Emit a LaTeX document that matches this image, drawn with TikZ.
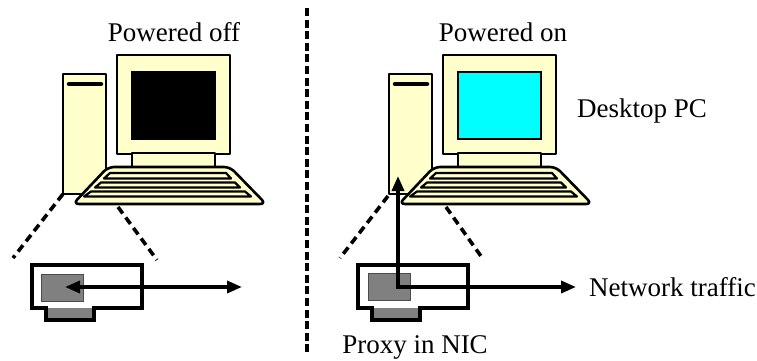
\documentclass[tikz,border=0pt]{standalone}
\usepackage{fontspec}
\setmainfont{Liberation Serif}
\usetikzlibrary{arrows.meta}

\definecolor{cream}{HTML}{FFFFCC}
\definecolor{chipgray}{HTML}{808080}
\definecolor{screenon}{HTML}{00FFFF}

\tikzset{
  part/.style={draw=black, fill=cream, line width=2.6pt, line join=round},
  keyrow/.style={draw=black, fill=cream, line width=2.2pt, line join=round},
  slot/.style={line width=4.5pt, line cap=round},
  screenframe/.style={draw=black, line width=1.2pt},
  card/.style={draw=black, line width=3.5pt, line join=miter},
  chip/.style={draw=black!70, fill=chipgray, line width=1pt, minimum width=42pt, minimum height=27pt, inner sep=0pt},
  zoomline/.style={line width=3.6pt, dash pattern=on 8pt off 5pt},
  divider/.style={line width=3.4pt, dash pattern=on 8pt off 3.6pt},
  flow/.style={line width=3.5pt, {Triangle[length=15pt,width=12pt]}-{Triangle[length=15pt,width=12pt]}},
  label/.style={font=\fontsize{27}{32}\selectfont, inner sep=0pt}
}

% desktop computer: horizontal offset, screen colour
\newcommand\desktoppc[2]{%
  \begin{scope}[shift={(#1,0)}]
    \filldraw[part] (63,74) rectangle (106,194);
    \draw[slot] (69,84) -- (101,84);
    \filldraw[part] (117,55) rectangle (230,154);
    \filldraw[screenframe, fill=#2] (132,72) rectangle (215,139);
    \filldraw[part] (132,153) rectangle (215,171);
    \filldraw[part, rounded corners=6pt] (108,167) -- (230,167) -- (266,204) -- (73,204) -- cycle;
    \filldraw[keyrow] (110,173) -- (226,173) -- (231,178.5) -- (104,178.5) -- cycle;
    \filldraw[keyrow] (101,182.5) -- (235,182.5) -- (240,187.5) -- (95,187.5) -- cycle;
    \filldraw[keyrow] (91,191.5) -- (245,191.5) -- (251,196.5) -- (84,196.5) -- cycle;
  \end{scope}}

% network card outline with its edge connector
\newcommand\niccard[1]{%
  \begin{scope}[shift={(#1,0)}]
    \fill[white] (32,265) rectangle (142,308);
    \fill[chipgray] (46,308) rectangle (94,320);
    \draw[card] (32,265) -- (142,265) -- (142,308) -- (94,308) -- (94,320)
      -- (46,320) -- (46,308) -- (32,308) -- cycle;
  \end{scope}}

\begin{document}
\begin{tikzpicture}[x=1pt, y=-1pt]
  \useasboundingbox (0,0) rectangle (757,360);

  % separator between the two states
  \coordinate (divTop) at (307,8);
  \coordinate (divBot) at (307,355);
  \draw[divider] (divTop) -- (divBot);

  % powered-off machine
  \desktoppc{0}{black}
  \coordinate (zoomLa) at (63,194);
  \coordinate (zoomLb) at (13,258);
  \coordinate (zoomLc) at (118,207);
  \coordinate (zoomLd) at (157,260);
  \draw[zoomline] (zoomLa) -- (zoomLb);
  \draw[zoomline] (zoomLc) -- (zoomLd);
  \niccard{0}
  \node[chip] (chipL) at (62,287.5) {};
  \coordinate (inL) at (65,287);
  \coordinate (outL) at (242,287);
  \draw[flow] (inL) -- (outL);

  % powered-on machine
  \desktoppc{326}{screenon}
  \coordinate (zoomRa) at (388,196);
  \coordinate (zoomRb) at (340,258);
  \coordinate (zoomRc) at (446,207);
  \coordinate (zoomRd) at (483,259);
  \draw[zoomline] (zoomRa) -- (zoomRb);
  \draw[zoomline] (zoomRc) -- (zoomRd);
  \niccard{326}
  \node[chip] (chipR) at (389,287) {};
  \coordinate (upR) at (398,176);
  \coordinate (hubR) at (398,287);
  \coordinate (outR) at (576,287);
  \draw[flow] (upR) -- (hubR) -- (outR);

  % labels
  \node[label, anchor=base] (offLbl) at (174,41) {Powered off};
  \node[label, anchor=base] (onLbl) at (503,41) {Powered on};
  \node[label, anchor=base west] (pcLbl) at (577,117) {Desktop PC};
  \node[label, anchor=base west] (netLbl) at (589,296) {Network traffic};
  \node[label, anchor=base] (proxyLbl) at (415,353) {Proxy in NIC};
\end{tikzpicture}
\end{document}
